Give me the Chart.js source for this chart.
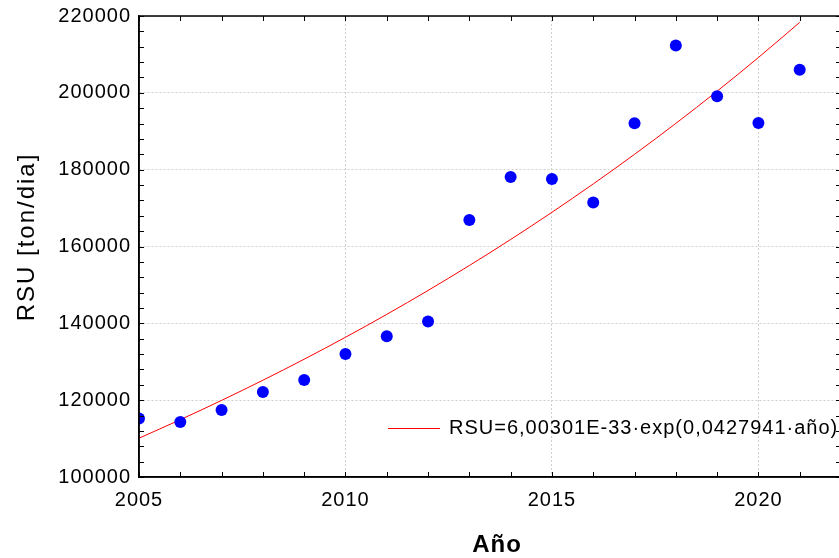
<!DOCTYPE html>
<html>
<head>
<meta charset="utf-8">
<script src="https://cdn.jsdelivr.net/npm/chart.js@4.4.1/dist/chart.umd.min.js"></script>
<style>
  html, body { margin: 0; padding: 0; background: #fff; overflow: hidden; }
  #wrap { width: 852px; height: 558px; }
</style>
</head>
<body>
<div id="wrap"><canvas id="myChart" width="852" height="558"></canvas></div>
<script>
// datos
const years = [2005, 2006, 2007, 2008, 2009, 2010, 2011, 2012, 2013, 2014, 2015, 2016, 2017, 2018, 2019, 2020, 2021];
const rsu = [115200, 114300, 117450, 122100, 125260, 132030, 136660, 140450, 166900, 178100, 177570, 171470, 192100, 212340, 199110, 192140, 206000];
const rsuFit = [110100, 114920, 119940, 125190, 130660, 136370, 142330, 148560, 155050, 161830, 168900, 176290, 183990, 192040, 200430, 209190, 218340];
const fitLabel = "RSU=6,00301E-33·exp(0,0427941·año)";
const xTitle = "Año";
const yTitle = "RSU [ton/dia]";

const xLabels = [2005, 2010, 2015, 2020];
const yLabels = [100000, 120000, 140000, 160000, 180000, 200000, 220000];

Chart.defaults.font.family = "'Liberation Sans', Arial, sans-serif";
Chart.defaults.color = "#000";

const spacing = {
  id: "spacing",
  beforeLayout(chart) { chart.ctx.letterSpacing = "1px"; },
  beforeDraw(chart) { chart.ctx.letterSpacing = "1px"; },
};

// marco, ticks hacia adentro, titulos y leyenda
const frame = {
  id: "frame",
  afterDraw(chart) {
    const { ctx, chartArea: a, scales: { x, y } } = chart;
    ctx.save();
    ctx.strokeStyle = "#000";
    ctx.lineWidth = 1.5;
    ctx.strokeRect(a.left, a.top, a.right - a.left, a.bottom - a.top);
    ctx.lineWidth = 1;
    ctx.beginPath();
    x.ticks.forEach((t) => {
      const px = Math.round(x.getPixelForValue(t.value)) + 0.5;
      ctx.moveTo(px, a.bottom); ctx.lineTo(px, a.bottom - 5);
      ctx.moveTo(px, a.top); ctx.lineTo(px, a.top + 5);
    });
    y.ticks.forEach((t) => {
      const py = Math.round(y.getPixelForValue(t.value)) + 0.5;
      ctx.moveTo(a.left, py); ctx.lineTo(a.left + 5, py);
      ctx.moveTo(a.right, py); ctx.lineTo(a.right - 5, py);
    });
    ctx.stroke();

    // titulos
    ctx.fillStyle = "#000";
    ctx.textAlign = "center";
    ctx.textBaseline = "middle";
    ctx.letterSpacing = "1px";
    ctx.font = "bold 24px 'Liberation Sans', Arial, sans-serif";
    ctx.fillText(xTitle, 497, 545);
    ctx.save();
    ctx.translate(27, 237);
    ctx.rotate(-Math.PI / 2);
    ctx.letterSpacing = "2px";
    ctx.font = "24px 'Liberation Sans', Arial, sans-serif";
    ctx.fillText(yTitle, 0, 0);
    ctx.restore();

    // leyenda
    const ly = 428;
    ctx.strokeStyle = "rgb(255,0,0)";
    ctx.beginPath();
    ctx.moveTo(388, ly + 0.5); ctx.lineTo(440, ly + 0.5);
    ctx.stroke();
    ctx.letterSpacing = "1px";
    ctx.font = "20px 'Liberation Sans', Arial, sans-serif";
    ctx.textAlign = "left";
    ctx.fillText(fitLabel, 449, ly);
    ctx.restore();
  },
};

const ctx = document.getElementById("myChart");
const myChart = new Chart(ctx, {
  type: "scatter",
  data: {
    datasets: [
      {
        label: "RSU",
        data: years.map((yr, i) => ({ x: yr, y: rsu[i] })),
        backgroundColor: "rgb(0,0,255)",
        borderWidth: 0,
        pointRadius: 6,
        pointHoverRadius: 6,
      },
      {
        label: fitLabel,
        data: years.map((yr, i) => ({ x: yr, y: rsuFit[i] })),
        showLine: true,
        borderColor: "rgb(255,0,0)",
        borderWidth: 1,
        pointRadius: 0,
        cubicInterpolationMode: "monotone",
      },
    ],
  },
  options: {
    responsive: false,
    animation: false,
    devicePixelRatio: 1,
    layout: { padding: { top: 16, right: 2, left: 0, bottom: 0 } },
    plugins: {
      legend: { display: false },
      tooltip: { enabled: false },
    },
    scales: {
      x: {
        type: "linear",
        min: 2005,
        max: 2022,
        border: { display: true, color: "#000", width: 1.5, dash: [2, 2] },
        grid: {
          drawTicks: false,
          color: (c) => (c.tick && xLabels.includes(c.tick.value) ? "#cfcfcf" : "rgba(0,0,0,0)"),
          lineWidth: 1,
        },
        ticks: {
          stepSize: 1,
          autoSkip: false,
          maxRotation: 0,
          padding: 11,
          font: { size: 20 },
          callback: (v) => (xLabels.includes(v) ? String(v) : ""),
        },
        afterFit: (s) => { s.height = 81; },
      },
      y: {
        min: 100000,
        max: 220000,
        border: { display: true, color: "#000", width: 1.5, dash: [2, 2] },
        grid: {
          drawTicks: false,
          color: (c) => (c.tick && yLabels.includes(c.tick.value) ? "#cfcfcf" : "rgba(0,0,0,0)"),
          lineWidth: 1,
        },
        ticks: {
          stepSize: 4000,
          autoSkip: false,
          padding: 8,
          font: { size: 20 },
          callback: (v) => (yLabels.includes(v) ? String(v) : ""),
        },
        afterFit: (s) => { s.width = 139; s.paddingTop = 0; s.paddingBottom = 0; },
      },
    },
  },
  plugins: [spacing, frame],
});
</script>
</body>
</html>
